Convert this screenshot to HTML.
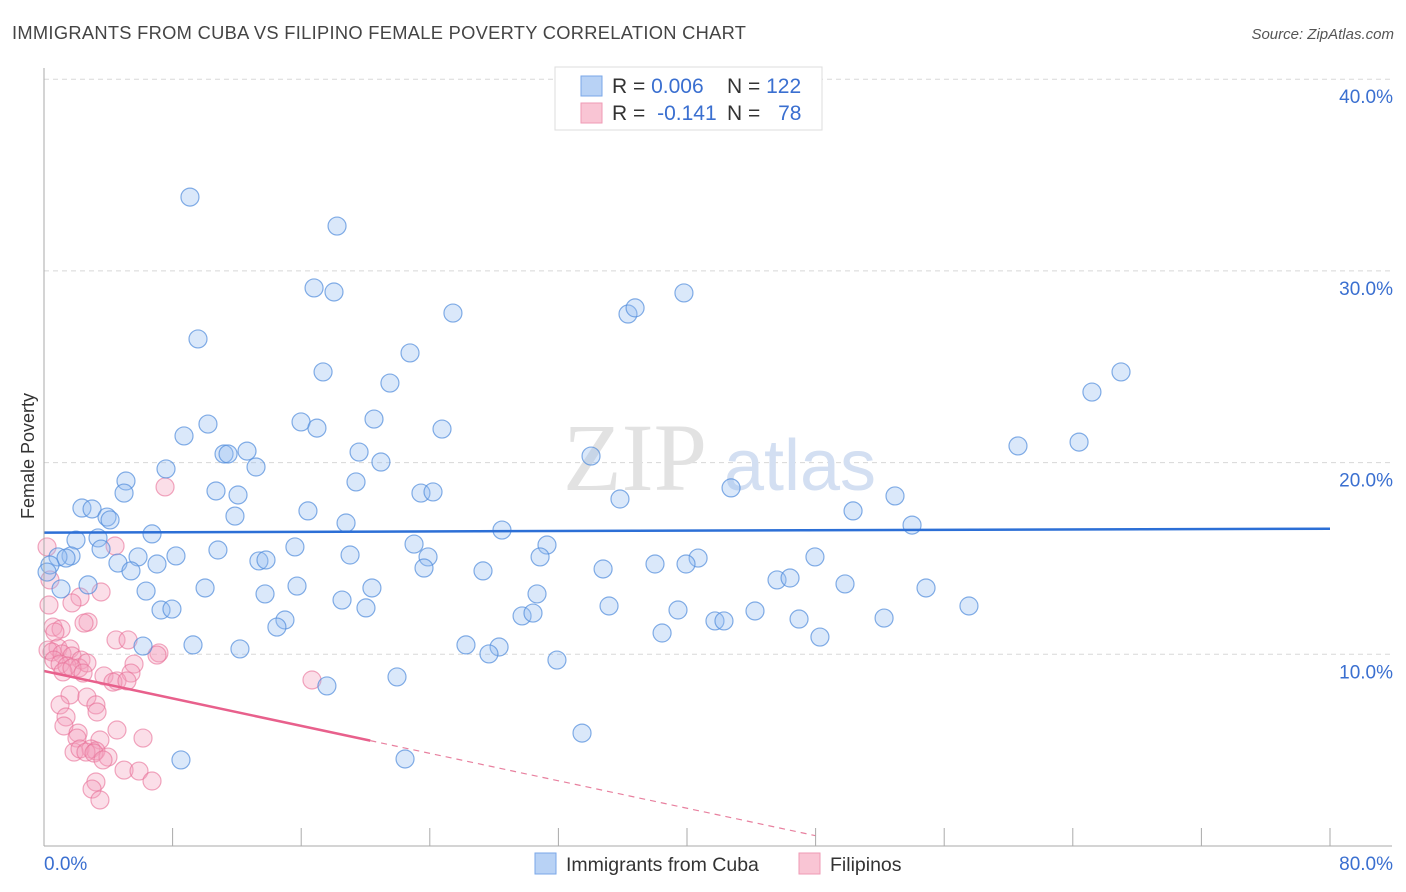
<!DOCTYPE html>
<html><head><meta charset="utf-8"><style>
body{margin:0;background:#fff;width:1406px;height:892px;overflow:hidden;font-family:"Liberation Sans",sans-serif}
svg{position:absolute;left:0;top:0}
</style></head><body>
<svg id="chart" width="1406" height="892">
<text x="12" y="39" font-size="18.3" letter-spacing="0.3" fill="#444">IMMIGRANTS FROM CUBA VS FILIPINO FEMALE POVERTY CORRELATION CHART</text>
<text x="1394" y="39" font-size="15" fill="#555" font-style="italic" text-anchor="end">Source: ZipAtlas.com</text>
<text x="0" y="0" transform="translate(34,456) rotate(-90)" font-size="18" fill="#333" text-anchor="middle">Female Poverty</text>
<g id="grid"></g>
<g id="wm">
<text x="635" y="490" font-size="96" fill="#e2e2e2" font-family="Liberation Serif,serif" text-anchor="middle">ZIP</text>
<text x="800" y="490" font-size="72" fill="#d3dff2" text-anchor="middle">atlas</text></g>
<g id="pts"></g>
<g id="trend"></g>
<g id="axes"></g>
<g>
<rect x="555" y="67" width="267" height="63" fill="#fff" stroke="#ddd"/>
<rect x="581" y="76" width="21" height="20" fill="#b8d2f5" stroke="#7aa7e8"/>
<rect x="581" y="103" width="21" height="20" fill="#f9c5d4" stroke="#ef9ab5"/>
<text x="612" y="93" font-size="21" fill="#333">R = <tspan fill="#3a6fd0">0.006</tspan></text>
<text x="727" y="93" font-size="21" fill="#333">N = <tspan fill="#3a6fd0">122</tspan></text>
<text x="612" y="120" font-size="21" fill="#333">R = <tspan fill="#3a6fd0" dx="6">-0.141</tspan></text>
<text x="727" y="120" font-size="21" fill="#333">N = <tspan fill="#3a6fd0" dx="12">78</tspan></text>
</g>
<g>
<rect x="535" y="853" width="21" height="21" fill="#b8d2f5" stroke="#7aa7e8"/>
<text x="566" y="871" font-size="19.5" fill="#333">Immigrants from Cuba</text>
<rect x="799" y="853" width="21" height="21" fill="#f9c5d4" stroke="#ef9ab5"/>
<text x="830" y="871" font-size="19.5" fill="#333">Filipinos</text>
</g>
</svg>
<script>
const blueX=[9.08,18.23,16.80,18.04,9.58,25.44,36.33,36.77,39.81,22.77,17.36,21.52,67.00,65.19,10.20,8.71,15.99,16.98,20.53,24.76,60.59,64.39,11.20,11.45,12.63,19.60,34.03,7.59,13.19,20.96,5.10,10.70,12.07,19.41,23.45,24.20,42.74,52.94,4.98,35.83,2.36,2.99,3.92,4.11,11.88,16.42,18.79,50.33,54.00,28.49,6.72,1.99,3.36,3.55,10.82,15.61,23.02,31.29,1.68,0.87,1.37,5.85,8.21,19.04,23.89,30.86,40.69,47.96,0.37,0.19,4.60,7.03,13.37,13.81,23.64,27.31,34.78,38.01,39.94,5.41,45.60,46.41,49.83,2.74,6.35,10.02,15.74,20.40,13.75,30.67,1.06,18.54,54.87,7.28,7.96,20.03,35.15,39.44,44.23,57.54,29.74,30.42,14.99,14.49,46.97,41.74,42.30,52.26,38.45,48.27,6.16,9.27,12.19,26.25,28.31,27.68,31.91,17.60,21.96,33.47,8.52,22.46];
const blueY=[33.85,32.34,29.11,28.90,26.45,27.80,27.75,28.07,28.85,25.72,24.73,24.15,24.73,23.68,22.01,21.39,22.12,21.80,22.27,21.75,20.87,21.07,20.45,20.45,20.60,20.55,20.34,19.67,19.77,20.03,19.04,18.52,18.31,18.99,18.41,18.47,18.68,18.26,18.41,18.10,17.63,17.58,17.16,17.01,17.21,17.48,16.85,17.48,16.74,16.48,16.28,15.96,16.07,15.49,15.44,15.60,15.75,15.70,15.13,15.08,15.02,15.08,15.13,15.18,15.08,15.08,15.02,15.08,14.66,14.29,14.76,14.71,14.87,14.92,14.50,14.35,14.45,14.71,14.71,14.35,13.88,13.98,13.67,13.62,13.30,13.46,13.56,13.46,13.15,13.15,13.41,12.83,13.46,12.31,12.36,12.42,12.52,12.31,12.26,12.52,12.00,12.15,11.79,11.42,11.84,11.74,11.74,11.89,11.11,10.90,10.43,10.49,10.28,10.49,10.38,10.02,9.70,8.35,8.82,5.89,4.49,4.54];
const pinkX=[7.53,0.19,4.42,0.37,3.55,2.24,1.74,0.31,2.74,2.49,0.56,1.06,0.68,0.87,1.62,0.25,0.50,1.12,1.74,2.30,0.62,1.00,1.43,2.18,2.67,4.48,5.23,7.15,7.03,5.60,1.18,1.74,2.43,3.73,5.41,4.54,4.29,5.16,16.67,1.62,2.67,1.00,3.23,3.30,1.37,1.24,2.12,2.05,4.54,6.16,3.48,2.92,1.87,2.24,3.23,2.61,3.11,3.98,3.67,4.98,5.91,6.72,3.23,2.99,3.48];
const pinkY=[18.73,15.60,15.65,13.88,13.25,12.99,12.68,12.57,11.68,11.63,11.42,11.32,11.16,10.33,10.28,10.22,10.12,10.02,9.91,9.70,9.70,9.49,9.39,9.29,9.55,10.75,10.75,10.07,9.96,9.49,9.08,9.29,9.02,8.87,9.02,8.61,8.55,8.61,8.66,7.88,7.77,7.36,7.36,6.99,6.73,6.26,5.89,5.63,6.05,5.63,5.53,5.06,4.90,5.06,4.96,4.90,4.85,4.64,4.49,3.96,3.91,3.39,3.34,2.97,2.40];
const yTicks=[10,20,30,40];
const yTickLabels=["10.0%","20.0%","30.0%","40.0%"];
const xTicks=[8,16,24,32,40,48,56,64,72,80];
const blueTrend=[16.35,16.55];
const pinkTrend=[9.13,-0.179];
const NS="http://www.w3.org/2000/svg";
const sx=v=>44+v*(1286/80), sy=v=>846-v*19.17;
function mk(tag,a,p){const e=document.createElementNS(NS,tag);for(const k in a)e.setAttribute(k,a[k]);p.appendChild(e);return e;}
const grid=document.getElementById('grid'),axes=document.getElementById('axes'),pts=document.getElementById('pts'),tr=document.getElementById('trend');
yTicks.forEach((t,i)=>{
 const l=mk('line',{x1:44,x2:1392,y1:sy(t),y2:sy(t),stroke:'#d8d8d8','stroke-dasharray':'5,4'},grid);
 
 
 const tx=mk('text',{x:1393,y:sy(t)+24,'font-size':19,fill:'#3a6fd0','text-anchor':'end'},axes);
 tx.textContent=yTickLabels[i];
 
 
});
mk('line',{x1:44,x2:44,y1:68,y2:846,stroke:'#aaa'},axes);
mk('line',{x1:44,x2:1392,y1:846,y2:846,stroke:'#aaa'},axes);
xTicks.forEach(t=>{const l=mk('line',{x1:sx(t),x2:sx(t),y1:828,y2:846,stroke:'#aaa'},axes);
 
 });
const xl=mk('text',{x:44,y:870,'font-size':19,fill:'#3a6fd0'},axes);xl.textContent='0.0%';

const xr=mk('text',{x:1393,y:870,'font-size':19,fill:'#3a6fd0','text-anchor':'end'},axes);xr.textContent='80.0%';

pinkX.forEach((x,i)=>{const c=mk('circle',{cx:sx(x),cy:sy(pinkY[i]),r:9,fill:'rgba(244,160,188,0.35)',stroke:'rgba(232,110,150,0.6)','stroke-width':1.2},pts);
 
 });
blueX.forEach((x,i)=>{const c=mk('circle',{cx:sx(x),cy:sy(blueY[i]),r:9,fill:'rgba(150,190,240,0.35)',stroke:'rgba(80,140,220,0.7)','stroke-width':1.2},pts);
 
 });
const bl=mk('line',{x1:sx(0),x2:sx(80),y1:sy(blueTrend[0]),y2:sy(blueTrend[1]),stroke:'#2c6fd6','stroke-width':2.5},tr);


const pe=20.3,pd=48;
const pl=mk('line',{x1:sx(0),x2:sx(pe),y1:sy(pinkTrend[0]),y2:sy(pinkTrend[0]+pinkTrend[1]*pe),stroke:'#e8608c','stroke-width':2.5},tr);


const pdl=mk('line',{x1:sx(pe),x2:sx(pd),y1:sy(pinkTrend[0]+pinkTrend[1]*pe),y2:sy(pinkTrend[0]+pinkTrend[1]*pd),stroke:'#e8809f','stroke-width':1.2,'stroke-dasharray':'6,5'},tr);


</script>
</body></html>
